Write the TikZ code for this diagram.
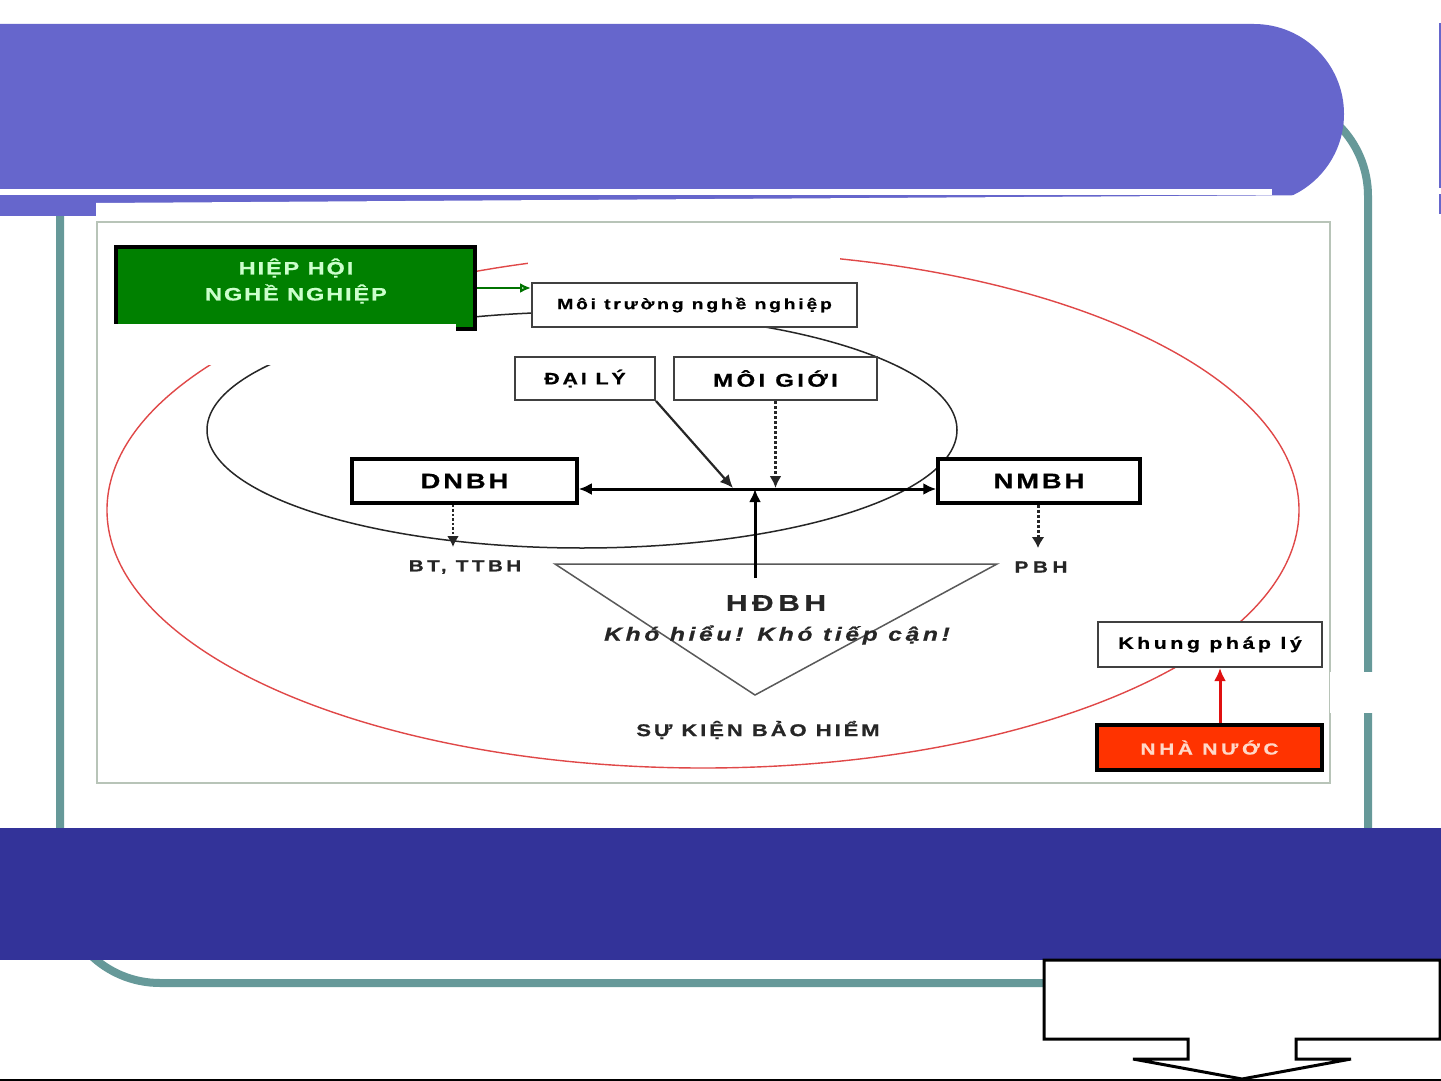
\documentclass[tikz,border=0pt]{standalone}
\usepackage{fontspec}
\setmainfont{Liberation Sans}
\usetikzlibrary{arrows.meta,calc}
\definecolor{hdr}{HTML}{6666CC}
\definecolor{band}{HTML}{333399}
\definecolor{tealc}{HTML}{669999}
\definecolor{grn}{HTML}{008000}
\definecolor{grntxt}{HTML}{CCFFCC}
\definecolor{orng}{HTML}{FF3300}
\definecolor{orgtxt}{HTML}{FFD8C8}
\definecolor{redl}{HTML}{E04848}
\definecolor{redarr}{HTML}{E01010}
\definecolor{framec}{HTML}{B8C4B8}
\definecolor{boxc}{HTML}{404040}
\newcommand\ft[2]{\fontsize{#1}{#1}\selectfont\addfontfeatures{FakeStretch=1.3,FakeBold=0.6,LetterSpace=#2}}
\begin{document}
\begin{tikzpicture}[x=1pt,y=-1pt,
  thinbox/.style={draw=boxc, line width=2pt, fill=white, inner sep=0pt},
  thickbox/.style={draw=black, line width=3.5pt, fill=white, inner sep=0pt},
  lbl/.style={inner sep=0pt, text=black!85},
  blk/.style={line width=3pt, black},
  tip/.style={-{Latex[length=13pt,width=12pt]}},
  dtip/.style={{Latex[length=13pt,width=12pt]}-{Latex[length=13pt,width=12pt]}}]
\useasboundingbox (0,0) rectangle (1441,1081);
\clip (0,0) rectangle (1441,1081);
\fill[white] (0,0) rectangle (1441,1081);
% slide frame
\draw[tealc, line width=8pt, rounded corners=100pt] (60,96) rectangle (1368,983);
% header
\fill[hdr] (0,24) -- (1254,24) arc[start angle=-90, end angle=90, radius=90] -- (0,204) -- cycle;
\fill[hdr] (0,195) rectangle (200,216);
\fill[white] (0,189) rectangle (1272,195);
\draw[hdr, line width=1.5pt] (1440,23) -- (1440,188) (1440,194) -- (1440,214);
% picture area
\fill[white] (96,203) -- (1333,195) -- (1333,795) -- (96,795) -- cycle;
\draw[framec, line width=2pt] (97,222) rectangle (1330,783);
\fill[white] (1330,672) rectangle (1441,713);
% ellipses
\draw[redl, line width=1.4pt] (703,510) ellipse[x radius=596, y radius=258];
\draw[black!85, line width=1.5pt] (582,430) ellipse[x radius=375, y radius=118];
\fill[white] (528,225) rectangle (840,281);
% triangle
\draw[black!65, line width=1.5pt] (555,564) -- (997,564) -- (755,695) -- cycle;
% green box
\node[draw=black, line width=3.5pt, fill=grn, minimum width=359pt, minimum height=82pt, inner sep=0pt] (hiep) at (295.5,288) {};
\fill[white] (113,324) rectangle (456,365);
\node[text=grntxt, align=center, inner sep=0pt, font={\bfseries\fontsize{18}{26}\selectfont\addfontfeatures{FakeStretch=1.3,FakeBold=0.6,LetterSpace=11}}] (hieptxt) at (296,281) {HIỆP HỘI\\NGHỀ NGHIỆP};
% boxes
\node[thinbox, minimum width=325pt, minimum height=44pt, font={\bfseries\ft{15}{18}}] (moitruong) at (694.5,305) {Môi trường nghề nghiệp};
\node[thinbox, minimum width=140pt, minimum height=43pt, font={\bfseries\ft{16.5}{17}}] (daily) at (585,378.5) {ĐẠI LÝ};
\node[thinbox, minimum width=203pt, minimum height=43pt, font={\bfseries\ft{18.5}{18}}] (moigioi) at (775.5,378.5) {MÔI GIỚI};
\node[thickbox, minimum width=225pt, minimum height=44pt, font={\bfseries\ft{21}{14}}] (dnbh) at (464.5,481) {DNBH};
\node[thickbox, minimum width=202pt, minimum height=44pt, font={\bfseries\ft{21}{14}}] (nmbh) at (1039,481) {NMBH};
\node[thinbox, minimum width=224pt, minimum height=45pt, font={\bfseries\ft{16.5}{21}}] (khung) at (1210,644.5) {Khung pháp lý};
\node[draw=black, line width=3.5pt, fill=orng, text=orgtxt, inner sep=0pt, minimum width=225pt, minimum height=45pt, font={\bfseries\ft{16}{23}}] (nhanuoc) at (1209.5,747.5) {NHÀ NƯỚC};
% labels
\node[lbl, font={\bfseries\ft{16}{21}}] (bt) at (465,567) {BT, TTBH};
\node[lbl, font={\bfseries\ft{16}{28}}] (pbh) at (1041,567) {PBH};
\node[lbl, font={\bfseries\ft{23}{20}}] (hdbh) at (776,603) {HĐBH};
\node[lbl, font={\bfseries\itshape\ft{19}{19}}] (kho) at (777,635) {Khó hiểu! Khó tiếp cận!};
\node[lbl, font={\bfseries\ft{17}{17}}] (sukien) at (758,730) {SỰ KIỆN BẢO HIỂM};
% junction coordinates
\coordinate (jl) at (755,489);
\coordinate (jd) at (733,488);
\coordinate (jup) at (755,578);
\coordinate (bx) at (453,547);
\coordinate (px) at (1038,548);
\coordinate (rx) at (1220,0);
% connectors
\draw[green!45!black, line width=2.5pt, -{Latex[open, length=11pt, width=10pt]}] (hiep.east) -- (hiep.east -| moitruong.west);
\draw[blk, dtip] (dnbh.east |- jl) -- (nmbh.west |- jl);
\draw[black!85, line width=2.2pt, tip] (daily.south east) -- (jd);
\draw[black!85, line width=3pt, dotted, -{Latex[length=12pt,width=12pt]}] (moigioi.south) -- (moigioi.south |- jd);
\draw[blk, tip] (jup) -- (jl);
\draw[black!85, line width=2.5pt, dotted, -{Latex[length=11pt,width=12pt]}] (dnbh.south -| bx) -- (bx);
\draw[black!85, line width=3pt, dotted, -{Latex[length=11pt,width=13pt]}] (nmbh.south -| px) -- (px);
\draw[redarr, line width=3pt, -{Latex[length=13pt,width=12pt]}] (nhanuoc.north -| rx) -- (khung.south -| rx);
% bottom band
\fill[band] (0,828) rectangle (1441,960);
% callout arrow
\draw[black, line width=3pt, fill=white, line join=miter] (1044,960) -- (1440,960) -- (1440,1039) -- (1296,1039) -- (1296,1059) -- (1351,1059) -- (1242,1079) -- (1133,1059) -- (1188,1059) -- (1188,1039) -- (1044,1039) -- cycle;
\draw[black, line width=1.5pt] (0,1080) -- (1441,1080);
\end{tikzpicture}
\end{document}
